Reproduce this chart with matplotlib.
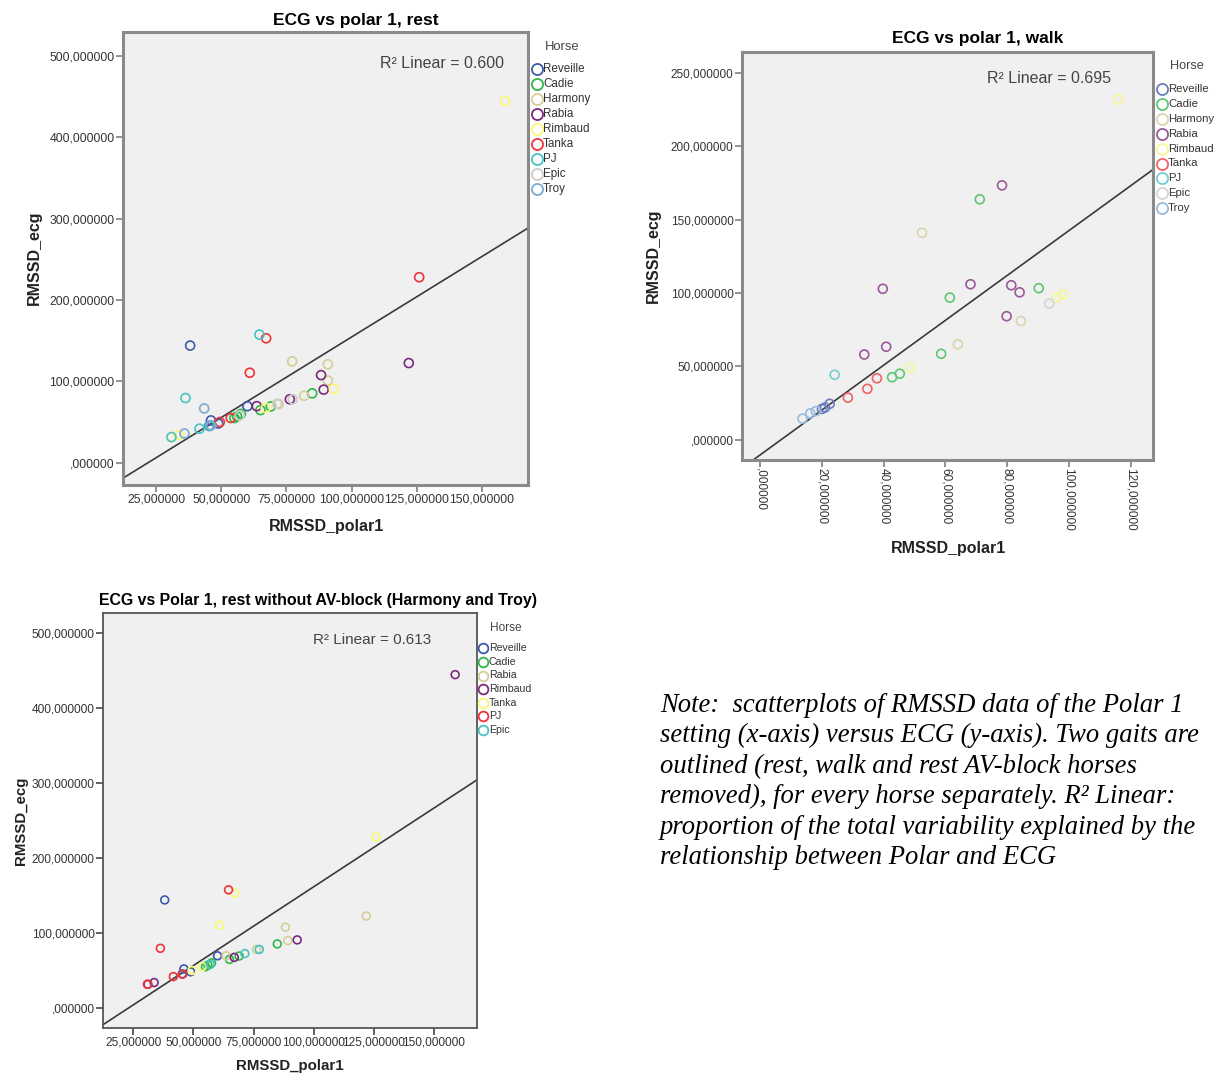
import numpy as np
import pandas as pd
import matplotlib
matplotlib.use("Agg")
import matplotlib.pyplot as plt
from matplotlib.lines import Line2D
from matplotlib.colors import to_rgb
from matplotlib.ticker import FixedLocator, FuncFormatter

plt.rcParams['font.family'] = ['Liberation Sans', 'DejaVu Sans']

# ── data: rest (one entry per measurement) ────────────────────────────────────
rest_horse = ['Reveille'] * 5 + ['Cadie'] * 6 + ['Harmony'] * 5 + ['Rabia'] * 5 + \
             ['Rimbaud'] * 5 + ['Tanka'] * 5 + ['PJ'] * 5 + ['Epic'] * 3 + ['Troy'] * 3
rest_polar = [38.0, 60.0, 46.0, 48.8, 45.3,
              84.9, 69.0, 65.0, 57.5, 56.0, 55.0,
              77.2, 90.9, 90.9, 81.8, 72.0,
              122.0, 88.3, 89.3, 76.3, 63.6,
              159.0, 93.2, 67.0, 33.6, 31.0,
              126.0, 67.2, 60.9, 53.6, 49.4,
              64.6, 36.2, 41.6, 45.5, 30.8,
              77.4, 71.4, 57.0,
              43.4, 35.8, 46.0]
rest_ecg = [144.0, 69.5, 52.0, 48.2, 45.3,
            85.3, 69.2, 64.7, 60.0, 57.0, 55.0,
            124.6, 121.0, 101.0, 82.3, 72.0,
            122.5, 107.7, 89.8, 78.0, 69.5,
            444.5, 90.7, 67.4, 33.9, 31.5,
            228.0, 153.0, 110.6, 55.0, 50.0,
            157.5, 79.5, 41.8, 45.1, 31.5,
            78.0, 72.5, 58.0,
            66.7, 35.9, 46.0]

# ── data: walk ────────────────────────────────────────────────────────────────
walk_horse = ['Reveille'] * 3 + ['Cadie'] * 6 + ['Harmony'] * 3 + ['Rabia'] * 8 + \
             ['Rimbaud'] * 4 + ['Tanka'] * 3 + ['PJ'] * 1 + ['Epic'] * 1 + ['Troy'] * 3
walk_polar = [22.5, 21.0, 20.0,
              71.1, 90.2, 61.4, 58.6, 45.2, 42.7,
              52.4, 84.4, 64.0,
              78.3, 39.7, 68.1, 81.3, 84.0, 79.8, 40.8, 33.7,
              116.0, 96.0, 98.0, 48.6,
              37.8, 34.7, 28.4,
              24.1,
              93.6,
              18.0, 16.2, 13.7]
walk_ecg = [24.5, 22.0, 21.0,
            163.9, 103.3, 96.9, 58.6, 45.0, 42.6,
            141.1, 80.9, 65.1,
            173.4, 102.9, 106.0, 105.3, 100.5, 84.2, 63.4, 58.1,
            232.0, 97.0, 99.0, 49.0,
            41.9, 34.7, 28.7,
            44.3,
            92.8,
            19.5, 18.0, 14.4]

horses_all = ['Reveille', 'Cadie', 'Harmony', 'Rabia', 'Rimbaud', 'Tanka', 'PJ', 'Epic', 'Troy']
removed_av = ['Harmony', 'Troy']
palette = ['#3E58AC', '#2EB848', '#D3CE97', '#7C287D', '#FBF873',
           '#EF3338', '#48C2C5', '#CCCCCC', '#7AAAD5']

# fit lines (slope, intercept) and R² labels
fit_rest = (1.976, -43.1)
fit_walk = (1.529, -10.3)
fit_rest_av = (2.096, -48.2)
r2_rest, r2_walk, r2_rest_av = '0.600', '0.695', '0.613'

rest = pd.DataFrame({'horse': rest_horse, 'polar': rest_polar, 'ecg': rest_ecg})
walk = pd.DataFrame({'horse': walk_horse, 'polar': walk_polar, 'ecg': walk_ecg})
rest_av = rest[~rest['horse'].isin(removed_av)]
horses_av = [h for h in horses_all if h not in removed_av]

# ── figure ────────────────────────────────────────────────────────────────────
W, H = 1221, 1075
fig = plt.figure(figsize=(W / 100, H / 100), dpi=100)


def box(l, t, r, b):
    return [l / W, 1 - b / H, (r - l) / W, (b - t) / H]


def fade(c, k):
    # blend a colour towards the light grey background (the walk panel is washed out)
    c = np.array(to_rgb(c))
    return tuple(c + (np.array([0.94, 0.94, 0.94]) - c) * k)


def spss_fmt(v, pos=None):
    return ('' if abs(v) < 1e-9 else f'{int(round(v))}') + ',000000'


def scatter_panel(rect, df, horses, colors, fit, r2, xlim, ylim, xticks, yticks,
                  tick_fs, ms, spine_c, spine_w, r2_xy, r2_fs, rot_x=False):
    ax = fig.add_axes(box(*rect))
    ax.set_facecolor('#F0F0F0')
    for i, h in enumerate(horses):
        d = df[df['horse'] == h]
        ax.scatter(d['polar'], d['ecg'], s=ms, facecolors='none',
                   edgecolors=[colors[i]], linewidths=1.2, zorder=3)
    xs = np.array(xlim)
    ax.plot(xs, fit[0] * xs + fit[1], color='#3a3a3a', lw=1.2, zorder=2)
    ax.set_xlim(xlim)
    ax.set_ylim(ylim)
    ax.xaxis.set_major_locator(FixedLocator(xticks))
    ax.yaxis.set_major_locator(FixedLocator(yticks))
    ax.xaxis.set_major_formatter(FuncFormatter(spss_fmt))
    ax.yaxis.set_major_formatter(FuncFormatter(spss_fmt))
    ax.tick_params(direction='out', length=5, width=1.3, color=spine_c,
                   labelsize=tick_fs, labelcolor='#333333', pad=1)
    if rot_x:
        for lab in ax.get_xticklabels():
            lab.set_rotation(270)
            lab.set_va('top')
            lab.set_ha('center')
    for sp in ax.spines.values():
        sp.set_color(spine_c)
        sp.set_linewidth(spine_w)
    fig.text(r2_xy[0] / W, 1 - r2_xy[1] / H, f'R² Linear = {r2}', ha='right',
             va='center', fontsize=r2_fs, color='#444444')
    return ax


def legend(horses, colors, x_marker, y_first, step, title_xy, fs, ms):
    fig.text(title_xy[0] / W, 1 - title_xy[1] / H, 'Horse', ha='center',
             va='center', fontsize=fs + 1, color='#444444')
    for i, h in enumerate(horses):
        y = 1 - (y_first + i * step) / H
        fig.add_artist(Line2D([x_marker / W], [y], marker='o', ms=ms,
                              mfc='none', mec=colors[i], mew=1.3,
                              transform=fig.transFigure))
        fig.text((x_marker + ms * 0.75) / W, y, h, va='center', fontsize=fs,
                 color='#333333')


walk_colors = [fade(c, 0.25) for c in palette]

# ── panel 1: rest ─────────────────────────────────────────────────────────────
scatter_panel((123, 32, 528, 485), rest, horses_all, palette, fit_rest, r2_rest,
              (12.2, 167.8), (-27.4, 529.5), [25, 50, 75, 100, 125, 150],
              [0, 100, 200, 300, 400, 500], 8.8, 42, '#8a8a8a', 2.2,
              (504, 64), 11.5)
fig.text(356 / W, 1 - 20 / H, 'ECG vs polar 1, rest', ha='center', va='center',
         fontsize=12.5, fontweight='bold')
fig.text(326 / W, 1 - 526 / H, 'RMSSD_polar1', ha='center', va='center',
         fontsize=11.5, fontweight='bold', color='#222222')
fig.text(34 / W, 1 - 258 / H, 'RMSSD_ecg', ha='center', va='center',
         rotation=90, fontsize=11.5, fontweight='bold', color='#222222')
legend(horses_all, palette, 537, 69, 14.96, (562, 47.5), 8.4, 8)

# ── panel 2: walk ─────────────────────────────────────────────────────────────
scatter_panel((742, 52, 1153, 460), walk, horses_all, walk_colors, fit_walk, r2_walk,
              (-5.9, 127.2), (-13.8, 264.3), [0, 20, 40, 60, 80, 100, 120],
              [0, 50, 100, 150, 200, 250], 8.5, 42, '#8a8a8a', 2.2,
              (1111, 78.5), 11.5, rot_x=True)
fig.text(978 / W, 1 - 39 / H, 'ECG vs polar 1, walk', ha='center', va='center',
         fontsize=12.5, fontweight='bold')
fig.text(948 / W, 1 - 549 / H, 'RMSSD_polar1', ha='center', va='center',
         fontsize=11.5, fontweight='bold', color='#222222')
fig.text(653 / W, 1 - 256 / H, 'RMSSD_ecg', ha='center', va='center',
         rotation=90, fontsize=11.5, fontweight='bold', color='#222222')
legend(horses_all, walk_colors, 1162, 88.7, 14.96, (1187, 66.4), 8.2, 8)

# ── panel 3: rest without AV-block ────────────────────────────────────────────
scatter_panel((103, 613, 477, 1028), rest_av, horses_av, palette, fit_rest_av, r2_rest_av,
              (12.3, 168.1), (-26.8, 526.7), [25, 50, 75, 100, 125, 150],
              [0, 100, 200, 300, 400, 500], 8.6, 32, '#555555', 1.3,
              (431, 640), 11)
fig.text(318 / W, 1 - 601 / H,
         'ECG vs Polar 1, rest without AV-block (Harmony and Troy)',
         ha='center', va='center', fontsize=11.4, fontweight='bold')
fig.text(290 / W, 1 - 1066 / H, 'RMSSD_polar1', ha='center', va='center',
         fontsize=10.8, fontweight='bold', color='#222222')
fig.text(21 / W, 1 - 821 / H, 'RMSSD_ecg', ha='center', va='center',
         rotation=90, fontsize=10.8, fontweight='bold', color='#222222')
legend(horses_av, palette, 483.5, 648.3, 13.6, (506, 627.7), 7.6, 7)

# ── note ──────────────────────────────────────────────────────────────────────
note_lines = [
    'Note:  scatterplots of RMSSD data of the Polar 1',
    'setting (x-axis) versus ECG (y-axis). Two gaits are',
    'outlined (rest, walk and rest AV-block horses',
    'removed), for every horse separately. R² Linear:',
    'proportion of the total variability explained by the',
    'relationship between Polar and ECG',
]
for i, line in enumerate(note_lines):
    fig.text(660 / W, 1 - (705 + i * 30.6) / H, line, ha='left', va='center',
             fontsize=19.2, style='italic', family='Liberation Serif')

plt.savefig('out.png', dpi=100)
